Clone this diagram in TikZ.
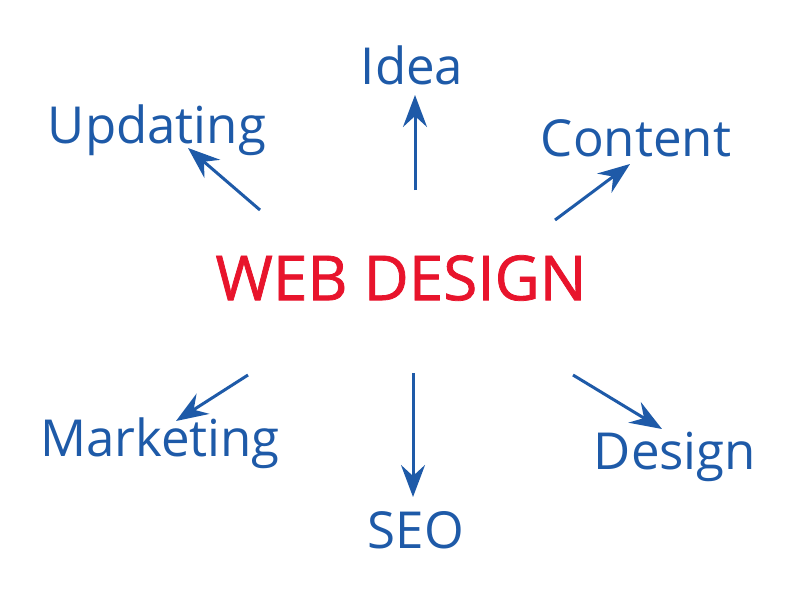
\documentclass[tikz,border=0pt]{standalone}
\usepackage{fontspec}
\setmainfont{Open Sans}
\newfontfamily\redfont[FakeBold=1.2]{Open Sans}
\usetikzlibrary{arrows.meta}
\definecolor{wblue}{HTML}{1E5AA8}
\definecolor{wred}{HTML}{E8142C}
\begin{document}
\begin{tikzpicture}[x=1pt,y=-1pt,
  lbl/.style={text=wblue,font=\fontsize{51}{53}\selectfont,inner sep=0pt},
  arr/.style={draw=wblue,line width=3pt,-{Stealth[length=32pt,width=24pt,inset=11pt]}}]
\useasboundingbox[fill=white] (0,0) rectangle (800,600);
\node[text=wred,font=\redfont\fontsize{62}{64}\selectfont,inner sep=0pt] (main) at (401,278) {WEB DESIGN};
\node[lbl] (idea) at (412,65) {Idea};
\node[lbl] (upd) at (157,130) {Updating};
\node[lbl] (cont) at (636,138) {Content};
\node[lbl] (mark) at (160,443) {Marketing};
\node[lbl] (seo) at (416,530) {SEO};
\node[lbl] (des) at (675,457) {Design};
\coordinate (s1) at (260,210); \coordinate (e1) at (188,148);
\coordinate (s2) at (415,190); \coordinate (e2) at (415,95);
\coordinate (s3) at (555,220); \coordinate (e3) at (630,164);
\coordinate (s4) at (248,375); \coordinate (e4) at (176,421);
\coordinate (s5) at (413,373); \coordinate (e5) at (413,497);
\coordinate (s6) at (573,375); \coordinate (e6) at (662,429);
\draw[arr] (s1) -- (e1);
\draw[arr] (s2) -- (e2);
\draw[arr] (s3) -- (e3);
\draw[arr] (s4) -- (e4);
\draw[arr] (s5) -- (e5);
\draw[arr] (s6) -- (e6);
\end{tikzpicture}
\end{document}
